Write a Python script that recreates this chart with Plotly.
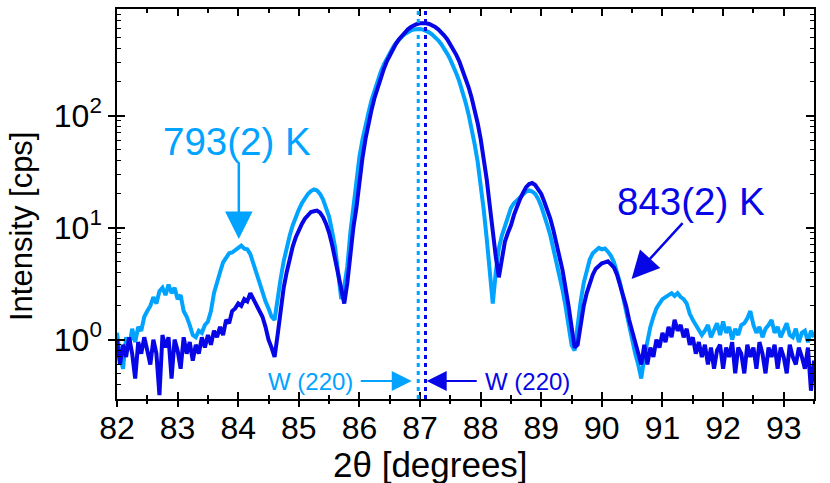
import math
import plotly.graph_objects as go

# ---------------- data ----------------
x_start = 82.0
x_step = 0.05
n_pts = 231
two_theta = [round(x_start + x_step * i, 2) for i in range(n_pts)]

# 793(2) K scan (light blue)
i_793 = [
    1.15, 0.7, 0.55, 1.05, 0.85, 1.25, 0.95, 1.3, 1.2, 1.6,
    1.8, 2.0, 2.4, 2.1, 2.7, 2.9, 2.5, 3.1, 2.6, 2.9,
    2.3, 2.5, 1.8, 1.6, 1.35, 1.1, 1.05, 1.2, 1.15, 1.35,
    1.45, 1.8, 2.6, 3.3, 4.0, 4.9, 5.4, 5.9, 6.0, 6.3,
    6.5, 6.9, 6.5, 6.4, 5.8, 4.8, 3.9, 3.1, 2.6, 2.2,
    1.9, 1.6, 1.5, 2.4, 3.5, 5.0, 6.8, 8.5, 10.5, 12.5,
    14.5, 16.5, 18.5, 20.0, 21.2, 21.9, 21.5, 20.0, 17.8, 15.2,
    12.5, 9.2, 6.6, 3.9, 2.3, 3.0, 4.5, 9, 16, 27,
    43, 61, 83, 107, 138, 171, 207, 244, 284, 324,
    364, 404, 442, 477, 508, 536, 558, 576, 588, 593,
    593, 586, 573, 554, 530, 502, 470, 434, 396, 356,
    316, 276, 237, 200, 165, 132, 103, 78, 56, 39,
    25, 14.5, 8, 4.5, 2.1, 4, 6.5, 8.5, 10.5, 13,
    15, 16.5, 17.5, 19, 20, 21, 21.5, 21, 20, 18,
    15.5, 13, 10.5, 8.5, 6.5, 5, 3.7, 2.8, 2.0, 1.3,
    0.9, 0.8, 1.4, 2.2, 3.2, 4.2, 5.2, 5.9, 6.3, 6.6,
    6.4, 6.5, 6.1, 5.6, 4.9, 4.0, 3.2, 2.4, 1.8, 1.3,
    0.95, 0.75, 0.6, 0.45, 0.7, 1.0, 1.3, 1.6, 1.9, 2.1,
    2.3, 2.4, 2.5, 2.6, 2.45, 2.6, 2.4, 2.3, 2.1, 1.7,
    1.5, 1.35, 1.25, 1.1, 1.2, 1.35, 1.05, 1.25, 1.4, 1.1,
    1.45, 1.15, 1.3, 1.0, 1.25, 1.1, 1.35, 1.4, 1.55, 1.8,
    1.35, 1.15, 1.3, 1.05, 1.25, 1.35, 1.5, 1.15, 1.3, 1.05,
    1.2, 1.4, 1.1, 1.05, 1.25, 0.95, 1.15, 1.2, 0.95, 1.2,
    1.05,
]

# 843(2) K scan (dark blue)
i_843 = [
    1.0, 0.6, 0.9, 0.7, 1.05, 0.75, 0.45, 0.95, 0.75, 1.05,
    0.8, 0.6, 1.0, 0.75, 0.32, 1.1, 0.85, 1.05, 0.45, 1.0,
    0.8, 0.55, 1.05, 0.75, 0.95, 0.65, 0.9, 0.75, 1.05, 0.85,
    1.1, 0.9, 1.2, 1.05, 1.3, 1.1, 1.5, 1.4, 1.8, 1.9,
    2.1, 2.0, 2.3, 2.2, 2.6, 2.3, 2.1, 1.8, 1.6, 1.3,
    1.0, 0.85, 0.7, 1.1, 1.9, 2.9, 4.0, 5.3, 6.8, 8.2,
    9.5, 10.8, 12.0, 13.0, 13.8, 14.0, 14.2, 13.6, 12.4, 10.8,
    9.0, 7.0, 5.2, 3.8, 2.8, 2.1, 3.2, 6, 10, 15,
    27, 42, 62, 86, 113, 145, 180, 218, 259, 303,
    347, 392, 435, 479, 519, 556, 590, 618, 641, 658,
    668, 671, 668, 658, 641, 618, 590, 556, 519, 479,
    435, 392, 347, 303, 259, 218, 180, 145, 113, 86,
    62, 42, 27, 15.8, 9, 5.5, 3.6, 5.5, 7.5, 9.0,
    10.5, 13, 15.5, 18, 20.5, 23, 24.5, 25, 24, 22,
    20, 17, 14.5, 12, 9.5, 7.5, 5.5, 4.2, 3.0, 2.0,
    1.3, 0.85, 0.9, 1.4, 2.0, 2.6, 3.2, 3.8, 4.3, 4.6,
    4.8, 4.9, 5.0, 4.7, 4.4, 3.8, 3.1, 2.5, 2.0, 1.5,
    1.2, 0.95, 0.8, 0.6, 0.9, 0.6, 0.85, 0.7, 1.0, 0.85,
    1.15, 0.95, 1.3, 1.05, 1.5, 1.2, 1.35, 1.05, 1.25, 0.9,
    1.05, 0.75, 0.95, 0.7, 0.9, 0.6, 0.85, 0.55, 0.8, 0.9,
    0.55, 0.85, 0.7, 0.95, 0.5, 0.85, 0.75, 0.5, 0.9, 0.7,
    0.85, 0.55, 0.95, 0.75, 0.5, 0.85, 0.7, 0.9, 0.55, 0.85,
    0.7, 0.5, 0.9, 0.7, 0.6, 0.85, 0.7, 0.55, 0.85, 0.35,
    0.65,
]

# W (220) reference positions [2theta] for each temperature
w220_793 = 86.97
w220_843 = 87.09

x_range = [82, 93.5]
y_range_log = [-0.53, 2.952]
x_major = list(range(82, 94))
y_major = [1, 10, 100]
y_major_text = ["10<sup>0</sup>", "10<sup>1</sup>", "10<sup>2</sup>"]
y_minor = [m * 10 ** e for e in (-1, 0, 1, 2) for m in range(2, 10)]

LIGHT = "#00A3FF"
DARK = "#0606E6"
FONT = "Liberation Sans, Arial, sans-serif"

fig = go.Figure()
fig.add_trace(go.Scatter(x=two_theta, y=i_793, mode="lines",
                         line=dict(color=LIGHT, width=4), name="793(2) K"))
fig.add_trace(go.Scatter(x=two_theta, y=i_843, mode="lines",
                         line=dict(color=DARK, width=4), name="843(2) K"))
# helper traces so overlay axes (for crossing ticks) exist
fig.add_trace(go.Scatter(x=[], y=[], xaxis="x2", yaxis="y", showlegend=False, hoverinfo="skip"))
fig.add_trace(go.Scatter(x=[], y=[], xaxis="x", yaxis="y2", showlegend=False, hoverinfo="skip"))

for pos, col in ((w220_793, LIGHT), (w220_843, DARK)):
    fig.add_shape(type="line", x0=pos, x1=pos, xref="x", yref="paper", y0=0, y1=1,
                  line=dict(color=col, width=3, dash="4px,4px"))

ax_common = dict(showgrid=False, zeroline=False, showline=True, linecolor="black",
                 linewidth=1.5, tickcolor="black", tickwidth=1.5)

fig.update_layout(
    width=830, height=483,
    margin=dict(l=117, r=16, t=7, b=84),
    paper_bgcolor="white", plot_bgcolor="white",
    showlegend=False,
    font=dict(family=FONT, color="black"),
    xaxis=dict(range=x_range, tickmode="array", tickvals=x_major, ticks="outside",
               ticklen=6, mirror=True, tickfont=dict(size=32, family=FONT),
               ticklabelstandoff=-6,
               minor=dict(ticks="outside", ticklen=3, dtick=0.5, tick0=82,
                          tickwidth=1.5, tickcolor="black", showgrid=False),
               **ax_common),
    xaxis2=dict(range=x_range, overlaying="x", anchor="y", tickmode="array",
                tickvals=x_major, ticks="inside", ticklen=7, mirror="ticks",
                showticklabels=False,
                minor=dict(ticks="inside", ticklen=4, dtick=0.5, tick0=82,
                           tickwidth=1.5, tickcolor="black", showgrid=False),
                **ax_common),
    yaxis=dict(type="log", range=y_range_log, tickmode="array", tickvals=y_major,
               ticktext=y_major_text, ticks="outside", ticklen=7, mirror=True,
               tickfont=dict(size=32, family=FONT), **ax_common),
    yaxis2=dict(type="log", range=y_range_log, overlaying="y", anchor="x",
                tickmode="array", tickvals=y_major, ticks="inside", ticklen=8,
                mirror="ticks", showticklabels=False,
                minor=dict(ticks="inside", ticklen=4, tickmode="array", tickvals=y_minor,
                           tickwidth=1.2, tickcolor="black", showgrid=False),
                **ax_common),
)

L = math.log10
annos = [
    # axis titles
    dict(text="Intensity [cps]", xref="paper", yref="paper", x=-0.136, y=0.444,
         xanchor="center", yanchor="middle",
         textangle=-90, showarrow=False, font=dict(size=31, color="black")),
    dict(text="2θ [degrees]", xref="paper", yref="paper", x=0.4505, y=-0.168,
         xanchor="center", yanchor="middle",
         showarrow=False, font=dict(size=35, color="black")),
    # temperature labels
    dict(text="793(2) K", x=83.98, y=L(58.7), xanchor="center", yanchor="middle",
         showarrow=False, font=dict(size=38.5, color=LIGHT)),
    dict(text=" ", x=84.01, y=L(7.9), ax=0, ay=-79, showarrow=True, arrowhead=2,
         arrowsize=2.2, arrowwidth=2.5, arrowcolor=LIGHT, standoff=0,
         font=dict(size=2)),
    dict(text="843(2) K", x=91.47, y=L(17.2), xanchor="center", yanchor="middle",
         showarrow=False, font=dict(size=38.5, color=DARK)),
    dict(text=" ", x=90.49, y=L(3.48), ax=53, ay=-58, showarrow=True, arrowhead=2,
         arrowsize=2.2, arrowwidth=2.5, arrowcolor=DARK, standoff=0,
         font=dict(size=2)),
    # W (220) markers
    dict(text="W (220)", x=85.93, y=L(0.427), xanchor="right", yanchor="middle",
         showarrow=False, font=dict(size=24, color=LIGHT)),
    dict(text=" ", x=86.863, y=L(0.427), ax=-53, ay=0, showarrow=True, arrowhead=2,
         arrowsize=2.0, arrowwidth=2, arrowcolor=LIGHT, standoff=0,
         font=dict(size=2)),
    dict(text="W (220)", x=88.04, y=L(0.427), xanchor="left", yanchor="middle",
         showarrow=False, font=dict(size=24, color=DARK)),
    dict(text=" ", x=87.11, y=L(0.427), ax=52, ay=0, showarrow=True, arrowhead=2,
         arrowsize=2.0, arrowwidth=2, arrowcolor=DARK, standoff=0,
         font=dict(size=2)),
]
for a in annos:
    fig.add_annotation(**a)

fig.write_html("out.html", config={"displayModeBar": False},
               post_script="document.body.style.margin='0px';document.body.style.padding='0px';")
